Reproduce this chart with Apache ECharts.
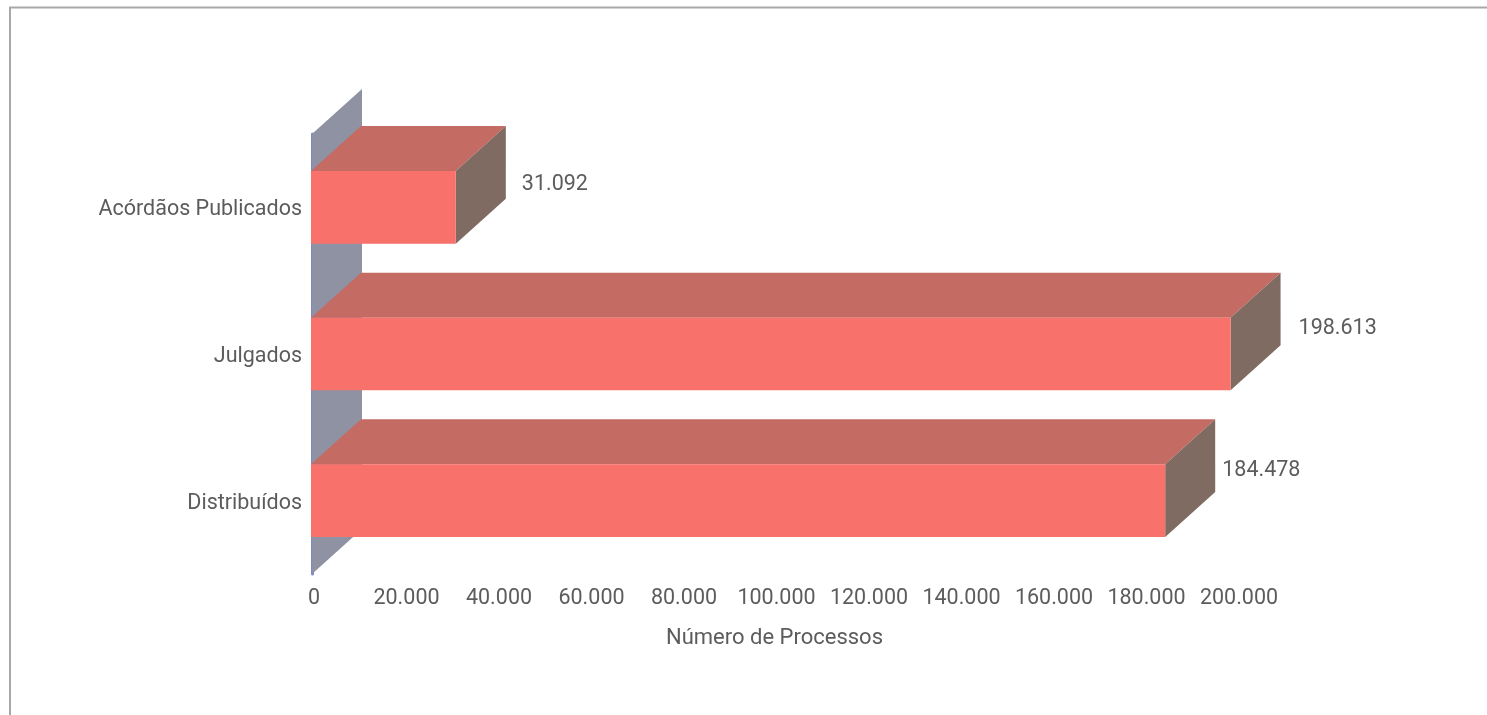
<!DOCTYPE html>
<html>
<head>
<meta charset="utf-8">
<style>html,body{margin:0;padding:0;background:#fff}#c{width:1487px;height:715px}</style>
<script src="https://cdn.jsdelivr.net/npm/echarts@6/dist/echarts.min.js"></script>
</head>
<body>
<div id="c"></div>
<script>
// Processos por etapa, de baixo para cima no eixo de categorias
const categories = ['Distribuídos', 'Julgados', 'Acórdãos Publicados'];
const values = [184478, 198613, 31092];
const valueLabelOffsets = [[57, -30], [68, -25], [66, -23]];

const axisMax = 200000;
const axisStep = 20000;
const DEPTH_X = 50, DEPTH_Y = -45;
const FONT = 'Roboto';
const FONT_SIZE = 21.5;
const TEXT = '#5c5c5c';

const thousands = v => String(v).replace(/\B(?=(\d{3})+(?!\d))/g, '.');
const poly = (points, fill) => ({ type: 'polygon', shape: { points }, style: { fill } });

// Parede de fundo: paralelogramo que acompanha a altura da área de plotagem
function renderWall(params) {
  const g = params.coordSys;
  return {
    type: 'group',
    children: [poly([
      [g.x, g.y], [g.x + DEPTH_X, g.y + DEPTH_Y],
      [g.x + DEPTH_X, g.y + g.height + DEPTH_Y], [g.x, g.y + g.height]
    ], '#8e92a2')]
  };
}

// Barra em perspectiva: frente, topo e lateral
function renderBar(params, api) {
  const v = api.value(0);
  const i = api.value(1);
  const end = api.coord([v, i]);
  const start = api.coord([0, i]);
  const h = api.size([0, 1])[1] * 0.495;
  const t = end[1] - h / 2, b = end[1] + h / 2;
  const x0 = start[0] - 1, x1 = end[0];
  const off = valueLabelOffsets[i];
  return {
    type: 'group',
    children: [
      poly([[x0, t], [x0 + DEPTH_X, t + DEPTH_Y], [x1 + DEPTH_X, t + DEPTH_Y], [x1, t]], '#c46b64'),
      poly([[x1, t], [x1 + DEPTH_X, t + DEPTH_Y], [x1 + DEPTH_X, b + DEPTH_Y], [x1, b]], '#7f6b62'),
      { type: 'rect', shape: { x: x0, y: t, width: x1 - x0, height: b - t }, style: { fill: '#f9716b' } },
      {
        type: 'text',
        style: {
          x: x1 + off[0], y: end[1] + off[1], text: thousands(v),
          fill: TEXT, font: FONT_SIZE + 'px ' + FONT, textAlign: 'left', textVerticalAlign: 'middle'
        }
      }
    ]
  };
}

const chart = echarts.init(document.getElementById('c'), null, { renderer: 'canvas' });
chart.setOption({
  animation: false,
  backgroundColor: '#ffffff',
  grid: { left: 312, top: 134, width: 925, height: 440 },
  graphic: [{
    type: 'polyline',
    shape: { points: [[10, 715], [10, 7.5], [1487, 7.5]] },
    style: { stroke: '#a8a8a8', lineWidth: 2, fill: null }
  }],
  xAxis: {
    type: 'value', min: 0, max: axisMax, interval: axisStep,
    splitLine: { show: false }, axisLine: { show: false }, axisTick: { show: false },
    axisLabel: {
      color: TEXT, fontFamily: FONT, fontSize: FONT_SIZE, margin: 14, hideOverlap: false,
      padding: [0, 0, 0, 4],
      formatter: v => thousands(v)
    },
    name: 'Número de Processos', nameLocation: 'middle', nameGap: 53,
    nameTextStyle: { color: TEXT, fontFamily: FONT, fontSize: 22 }
  },
  yAxis: {
    type: 'category', data: categories,
    axisTick: { show: false },
    axisLine: { show: true, lineStyle: { color: '#7f88c4', width: 3 } },
    axisLabel: {
      margin: 10,
      formatter: '{c|{value}}',
      rich: { c: { color: TEXT, fontFamily: FONT, fontSize: FONT_SIZE, padding: [5, 0, 0, 0] } }
    }
  },
  series: [
    { type: 'custom', name: 'Parede', renderItem: renderWall, data: [[0, 0]], silent: true, z: 1 },
    {
      type: 'custom', name: 'Processos', renderItem: renderBar, z: 2,
      encode: { x: 0, y: 1 },
      data: values.map((v, i) => [v, i])
    }
  ]
});
</script>
</body>
</html>
